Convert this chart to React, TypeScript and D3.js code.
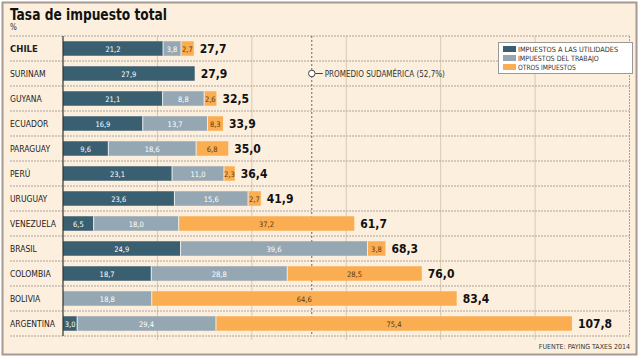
import React from "react";
import * as d3 from "d3";

const countries = ["CHILE", "SURINAM", "GUYANA", "ECUADOR", "PARAGUAY", "PERÚ", "URUGUAY", "VENEZUELA", "BRASIL", "COLOMBIA", "BOLIVIA", "ARGENTINA"];
const utilidades = [21.2, 27.9, 21.1, 16.9, 9.6, 23.1, 23.6, 6.5, 24.9, 18.7, 0, 3.0];
const trabajo = [3.8, 0, 8.8, 13.7, 18.6, 11.0, 15.6, 18.0, 39.6, 28.8, 18.8, 29.4];
const otros = [2.7, 0, 2.6, 8.3, 6.8, 2.3, 2.7, 37.2, 3.8, 28.5, 64.6, 75.4];
const totals = [27.7, 27.9, 32.5, 33.9, 35.0, 36.4, 41.9, 61.7, 68.3, 76.0, 83.4, 107.8];
const seriesNames = ["IMPUESTOS A LAS UTILIDADES", "IMPUESTOS DEL TRABAJO", "OTROS IMPUESTOS"];
const gridTicks = [20, 40, 60, 80, 100];
const promedio = 52.7;

const colors = ["#3a5f70", "#94a7b2", "#fbad52"];
const bg = "#fcefdd";
const cond = "'DejaVu Sans Condensed', 'DejaVu Sans', sans-serif";
const fmt = (v: number) => v.toFixed(1).replace(".", ",");

export default function App() {
  const W = 640, H = 359;
  const x = d3.scaleLinear().domain([0, 120]).range([63, 629.5]);
  const y = d3.scaleBand().domain(countries).range([36, 336]).paddingInner(0.42).paddingOuter(0.21);
  const top = 36, bottom = 336;
  const bh = y.bandwidth();

  return (
    <svg width={W} height={H} style={{ position: "absolute", left: 0, top: 0 }} fontFamily={cond}>
      <rect x={0} y={0} width={W} height={H} fill="#ffffff" />
      <rect x={2.5} y={2.5} width={634} height={352} fill={bg} stroke="#a69a90" strokeWidth={2} />
      <text x={10} y={20} fontSize={16} fontWeight="bold" fill="#111" fontFamily={cond} textLength={157} lengthAdjust="spacingAndGlyphs">Tasa de impuesto total</text>
      <text x={10} y={30} fontSize={8} fill="#333">%</text>

      {gridTicks.map((t) => (
        <line key={t} x1={x(t)} x2={x(t)} y1={top} y2={bottom + 4} stroke="#d8c9b2" strokeWidth={1} />
      ))}
      <line x1={x(120)} x2={x(120)} y1={top} y2={bottom} stroke="#a8a29c" strokeDasharray="2,1" />
      {countries.map((c, i) => {
        const yy = (y(c) as number) - (y.step() - bh) / 2;
        return <line key={c} x1={10} x2={x(120)} y1={yy} y2={yy} stroke="#aaa49d" strokeDasharray="2,1" />;
      })}
      <line x1={10} x2={x(120)} y1={bottom} y2={bottom} stroke="#aaa49d" strokeDasharray="2,1" />

      <line x1={x(promedio)} x2={x(promedio)} y1={top} y2={bottom} stroke="#666" strokeDasharray="2,2" />

      {countries.map((c, i) => {
        const yy = y(c) as number;
        const s0 = 0, s1 = utilidades[i], s2 = utilidades[i] + trabajo[i], s3 = totals[i];
        const segs = [
          [s0, s1, utilidades[i]],
          [s1, s2, trabajo[i]],
          [s2, otros[i] > 0 ? s3 : s2, otros[i]],
        ];
        return (
          <g key={c}>
            <text x={10} y={yy + bh / 2 + 3} fontSize={c === "CHILE" ? 9.5 : 8.5} fontWeight={c === "CHILE" ? "bold" : "normal"} fill="#222">{c}</text>
            {segs.map(([a, b, v], k) =>
              v > 0 ? (
                <g key={k}>
                  <rect x={x(a)} y={yy} width={x(b) - x(a)} height={bh} fill={colors[k]} />
                  {k > 0 && a > 0 ? <line x1={x(a)} x2={x(a)} y1={yy} y2={yy + bh} stroke="#e8eef0" strokeWidth={1} /> : null}
                  <text x={(x(a) + x(b)) / 2} y={yy + bh / 2 + 3} fontSize={7.5} textAnchor="middle" fill={k === 2 ? "#5a3a10" : "#fff"}>{fmt(v)}</text>
                </g>
              ) : null
            )}
            <text x={x(totals[i]) + 6} y={yy + bh / 2 + 4.5} fontSize={12} fontWeight="bold" fill="#111">{fmt(totals[i])}</text>
          </g>
        );
      })}
      <line x1={63} x2={63} y1={top} y2={bottom} stroke="#333" strokeWidth={1.2} />

      <circle cx={x(promedio)} cy={(y("SURINAM") as number) + bh / 2} r={3.3} fill="#fff" stroke="#444" strokeWidth={1} />
      <line x1={x(promedio) + 3.5} x2={x(promedio) + 11} y1={(y("SURINAM") as number) + bh / 2} y2={(y("SURINAM") as number) + bh / 2} stroke="#444" />
      <text x={x(promedio) + 13} y={(y("SURINAM") as number) + bh / 2 + 3} fontSize={8} fill="#333">PROMEDIO SUDAMÉRICA ({fmt(promedio)}%)</text>

      <rect x={498.5} y={42.5} width={134} height={31} fill="#fff" stroke="#999" />
      {seriesNames.map((n, k) => (
        <g key={n}>
          <rect x={503} y={46 + k * 9} width={13} height={6} fill={colors[k]} />
          <text x={518} y={52 + k * 9} fontSize={7.2} fill="#333" textLength={n.length * 3.85} lengthAdjust="spacingAndGlyphs">{n}</text>
        </g>
      ))}

      <text x={630} y={349} fontSize={7} textAnchor="end" fill="#333">FUENTE: PAYING TAXES 2014</text>
    </svg>
  );
}
